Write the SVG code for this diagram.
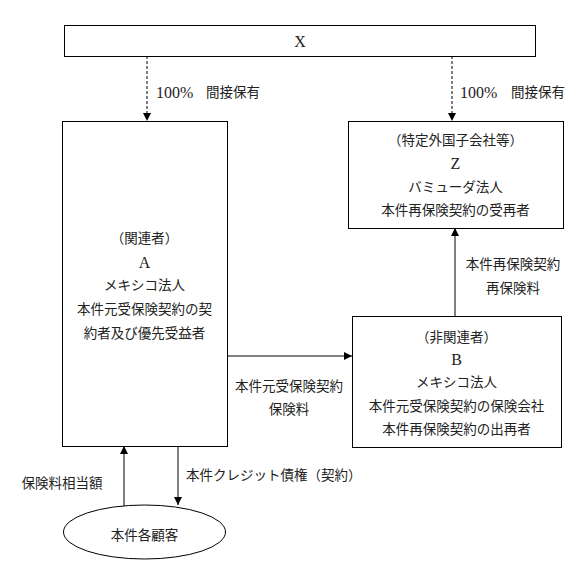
<svg xmlns="http://www.w3.org/2000/svg" width="582" height="572" viewBox="0 0 582 572">
<style>
text{font-family:"Liberation Serif","Noto Sans CJK JP",serif;font-size:13.5px;fill:#222;text-anchor:middle;dominant-baseline:central}
.lat{font-size:16px}
.box{fill:#fff;stroke:#000;stroke-width:1}
.ln{stroke:#000;stroke-width:1;fill:none}
.dash{stroke-dasharray:3,2}
.l{text-anchor:start}
</style>
<defs>
<marker id="ah" viewBox="0 0 10 10" refX="10" refY="5" markerWidth="8" markerHeight="8" markerUnits="userSpaceOnUse" orient="auto">
<path d="M0,0 L10,5 L0,10 z" fill="#000"/>
</marker>
</defs>
<rect width="582" height="572" fill="#fff"/>
<g id="connectors">
<line class="ln dash" x1="147" y1="56" x2="147" y2="121" marker-end="url(#ah)"/>
<line class="ln dash" x1="452" y1="56" x2="452" y2="121" marker-end="url(#ah)"/>
<line class="ln" x1="455" y1="316" x2="455" y2="228" marker-end="url(#ah)"/>
<line class="ln" x1="227" y1="356" x2="352" y2="356" marker-end="url(#ah)"/>
<line class="ln" x1="124" y1="507" x2="124" y2="446" marker-end="url(#ah)"/>
<line class="ln" x1="178" y1="446" x2="178" y2="505" marker-end="url(#ah)"/>
<text class="l" x="156" y="92"><tspan class="lat">100%</tspan><tspan x="206">間接保有</tspan></text>
<text class="l" x="460" y="92"><tspan class="lat">100%</tspan><tspan x="511">間接保有</tspan></text>
<text x="513" y="264">本件再保険契約</text>
<text x="513" y="288">再保険料</text>
<text x="289" y="386">本件元受保険契約</text>
<text x="289" y="409">保険料</text>
<text x="62" y="483">保険料相当額</text>
<text class="l" x="186" y="475">本件クレジット債権（契約）</text>
</g>
<g id="X">
<rect class="box" x="64.5" y="25.5" width="471" height="31"/>
<text class="lat" x="300" y="41">X</text>
</g>
<g id="A">
<rect class="box" x="62.5" y="121.5" width="165" height="325"/>
<text x="144.5" y="238">（関連者）</text>
<text class="lat" x="144.5" y="262">A</text>
<text x="144.5" y="285">メキシコ法人</text>
<text x="144.5" y="309">本件元受保険契約の契</text>
<text x="144.5" y="333">約者及び優先受益者</text>
</g>
<g id="Z">
<rect class="box" x="348.5" y="121.5" width="215" height="107"/>
<text x="455.5" y="140">（特定外国子会社等）</text>
<text class="lat" x="455.5" y="163">Z</text>
<text x="455.5" y="187">バミューダ法人</text>
<text x="455.5" y="210">本件再保険契約の受再者</text>
</g>
<g id="B">
<rect class="box" x="352.5" y="316.5" width="209" height="131"/>
<text x="456.5" y="337">（非関連者）</text>
<text class="lat" x="456.5" y="359">B</text>
<text x="456.5" y="382">メキシコ法人</text>
<text x="456.5" y="406">本件元受保険契約の保険会社</text>
<text x="456.5" y="429">本件再保険契約の出再者</text>
</g>
<g id="customers">
<ellipse class="box" cx="144.5" cy="532" rx="81" ry="27"/>
<text x="144.5" y="535">本件各顧客</text>
</g>
</svg>
